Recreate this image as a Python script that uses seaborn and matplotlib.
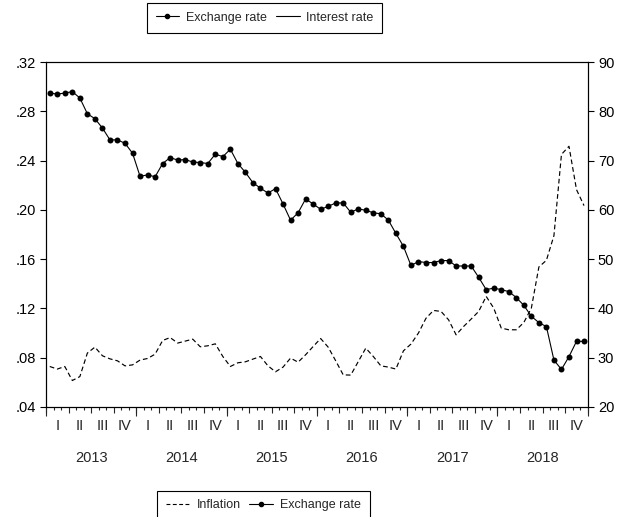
import numpy as np
import pandas as pd
from matplotlib import pyplot as plt
from matplotlib.lines import Line2D
from matplotlib.ticker import FuncFormatter, MultipleLocator
import seaborn as sns

# monthly series, 2013M01 - 2018M12
years = ["2013", "2014", "2015", "2016", "2017", "2018"]
quarters = ["I", "II", "III", "IV"]

exchange_rate = [
    83.7, 83.5, 83.7, 84.0, 82.7, 79.5, 78.5, 76.6, 74.2, 74.2, 73.5, 71.5,
    66.8, 67.1, 66.7, 69.4, 70.6, 70.1, 70.2, 69.7, 69.6, 69.4, 71.3, 70.8,
    72.3, 69.4, 67.6, 65.5, 64.4, 63.4, 64.3, 61.2, 57.9, 59.4, 62.2, 61.2,
    60.1, 60.7, 61.4, 61.4, 59.5, 60.2, 59.9, 59.4, 59.2, 57.9, 55.2, 52.6,
    48.7, 49.5, 49.3, 49.3, 49.7, 49.7, 48.6, 48.6, 48.6, 46.3, 43.8, 44.1,
    43.8, 43.4, 42.2, 40.6, 38.4, 37.1, 36.3, 29.5, 27.6, 30.2, 33.3, 33.3,
]

inflation = [
    .0728, .0707, .0728, .0614, .0646, .0837, .0885, .0815, .0790, .0774, .0733, .0741,
    .0780, .0793, .0828, .0939, .0963, .0918, .0934, .0950, .0888, .0896, .0912, .0809,
    .0728, .0758, .0766, .0788, .0809, .0733, .0685, .0723, .0796, .0763, .0823, .0890,
    .0955, .0885, .0774, .0660, .0658, .0768, .0877, .0809, .0733, .0723, .0707, .0855,
    .0910, .1000, .1120, .1183, .1175, .1107, .0985, .1053, .1113, .1175, .1297, .1202,
    .1040, .1026, .1026, .1085, .1202, .1536, .1590, .1790, .2450, .2516, .2164, .2034,
]

n = len(exchange_rate)
df = pd.DataFrame({
    "month": np.arange(n) + 0.5,
    "exchange_rate": exchange_rate,
    "inflation": inflation,
})

sns.set_style("ticks")
plt.rcParams["font.family"] = ["Liberation Sans", "DejaVu Sans"]
plt.rcParams["axes.linewidth"] = 0.8

fig = plt.figure(figsize=(6.3, 5.17), dpi=100)
ax = fig.add_axes([0.073, 0.213, 0.860, 0.667])
ax2 = ax.twinx()

sns.lineplot(data=df, x="month", y="inflation", ax=ax, color="black",
             linewidth=0.85, linestyle=(0, (4, 2.5)), legend=False)
sns.lineplot(data=df, x="month", y="exchange_rate", ax=ax2, color="black",
             linewidth=0.8, marker="o", markersize=4.3, markeredgewidth=0,
             legend=False)

ax.set_xlim(0, n)
ax.set_ylim(0.04, 0.32)
ax2.set_ylim(20, 90)
ax.yaxis.set_major_locator(MultipleLocator(0.04))
ax.yaxis.set_major_formatter(FuncFormatter(lambda v, p: f"{v:.2f}".lstrip("0")))
ax2.yaxis.set_major_locator(MultipleLocator(10))
for a in (ax, ax2):
    a.set_xlabel("")
    a.set_ylabel("")
    for s in a.spines.values():
        s.set_visible(True)
        s.set_color("black")
ax.tick_params(axis="y", length=4.3, width=0.8, pad=3, labelsize=10.5, colors="black")
ax2.tick_params(axis="y", length=4.3, width=0.8, pad=3, labelsize=10.5, colors="black")

# month / quarter tick marks
ax.set_xticks(np.arange(0, n + 1, 3))
ax.set_xticks(np.arange(0, n + 1, 1), minor=True)
ax.tick_params(axis="x", which="major", length=4.5, width=0.8, labelbottom=False)
ax.tick_params(axis="x", which="minor", length=2.5, width=0.8)

# year boundary ticks
yb = ax.secondary_xaxis("bottom")
yb.set_xticks(np.arange(0, n + 1, 12))
yb.set_xticklabels([])
yb.tick_params(length=6.5, width=0.8)
yb.spines["bottom"].set_visible(False)

# quarter labels
ql = ax.secondary_xaxis("bottom")
ql.set_xticks(np.arange(1.5, n, 3))
ql.set_xticklabels(quarters * len(years), fontsize=10.5)
ql.tick_params(length=0, pad=9)
ql.spines["bottom"].set_visible(False)

# year labels
yl = ax.secondary_xaxis("bottom")
yl.set_xticks(np.arange(6, n, 12))
yl.set_xticklabels(years, fontsize=10.5)
yl.tick_params(length=0, pad=32)
yl.spines["bottom"].set_visible(False)

leg_kw = dict(ncol=2, frameon=True, fancybox=False, fontsize=9,
              handlelength=1.9, handletextpad=0.55, columnspacing=0.7,
              borderpad=0.7, borderaxespad=0, edgecolor="black", framealpha=1)
h_ex = Line2D([], [], color="black", linewidth=0.8, marker="o", markersize=3)
h_int = Line2D([], [], color="black", linewidth=0.8)
h_inf = Line2D([], [], color="black", linewidth=0.8, linestyle=(0, (3.5, 2.2)))

top = fig.legend([h_ex, h_int], ["Exchange rate", "Interest rate"],
                 loc="upper center", bbox_to_anchor=(0.420, 0.994), **leg_kw)
top.get_frame().set_linewidth(0.8)
bot = fig.legend([h_inf, h_ex], ["Inflation", "Exchange rate"],
                 loc="upper center", bbox_to_anchor=(0.418, 0.051), **leg_kw)
bot.get_frame().set_linewidth(0.8)

fig.savefig("out.png", dpi=100)
